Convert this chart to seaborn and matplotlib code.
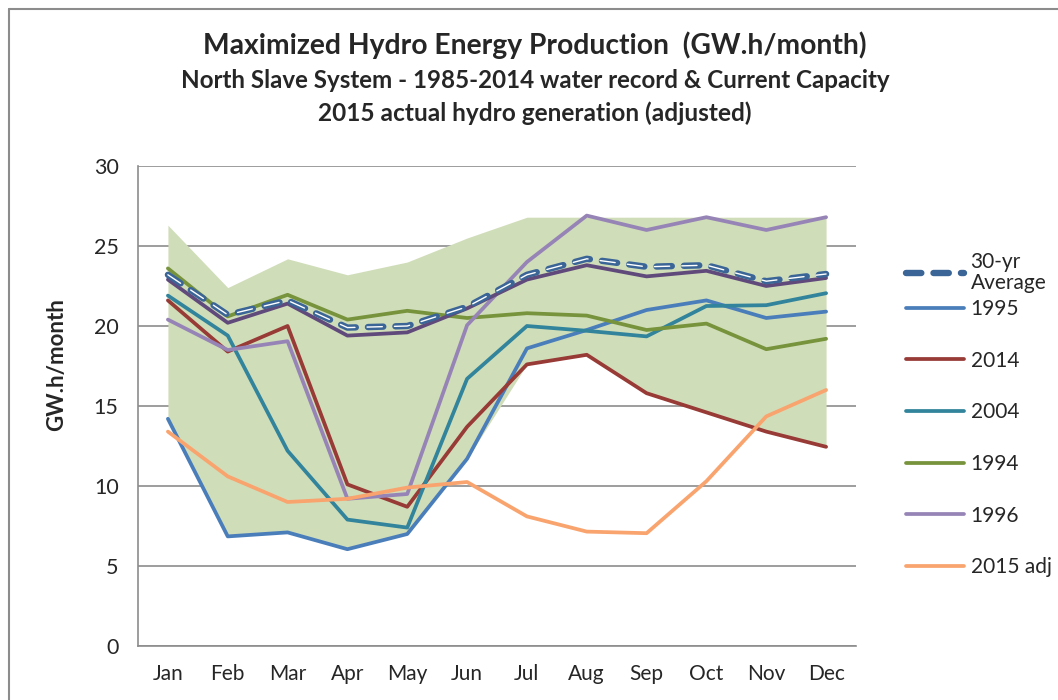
import numpy as np
import pandas as pd
import seaborn as sns
import matplotlib.pyplot as plt
from matplotlib.lines import Line2D

sns.set_style('white')
plt.rcParams['font.family'] = ['Lato', 'DejaVu Sans']

months = ['Jan', 'Feb', 'Mar', 'Apr', 'May', 'Jun', 'Jul', 'Aug', 'Sep', 'Oct', 'Nov', 'Dec']

# envelope of the 1985-2014 water record
band_hi = [26.3, 22.4, 24.2, 23.2, 24.0, 25.5, 26.8, 26.8, 26.8, 26.8, 26.8, 26.8]
band_lo = [14.2, 6.85, 7.1, 6.05, 7.0, 11.7, 17.6, 18.2, 15.8, 14.6, 13.4, 12.45]

avg_30yr = [23.2, 20.7, 21.6, 19.9, 20.0, 21.2, 23.2, 24.2, 23.7, 23.8, 22.8, 23.25]
cap_line = [22.9, 20.2, 21.4, 19.4, 19.6, 21.1, 22.9, 23.8, 23.1, 23.45, 22.5, 23.0]
y1995 = [14.2, 6.85, 7.1, 6.05, 7.0, 11.7, 18.6, 19.75, 21.0, 21.6, 20.5, 20.9]
y2014 = [21.6, 18.4, 20.0, 10.1, 8.7, 13.7, 17.6, 18.2, 15.8, 14.6, 13.4, 12.45]
y2004 = [21.9, 19.4, 12.2, 7.9, 7.4, 16.7, 20.0, 19.7, 19.35, 21.25, 21.3, 22.05]
y1994 = [23.6, 20.6, 21.95, 20.4, 20.95, 20.5, 20.8, 20.65, 19.75, 20.15, 18.55, 19.2]
y1996 = [20.4, 18.5, 19.05, 9.2, 9.5, 20.05, 24.0, 26.9, 26.0, 26.8, 26.0, 26.8]
y2015_adj = [13.4, 10.6, 9.0, 9.2, 9.9, 10.25, 8.1, 7.15, 7.05, 10.3, 14.35, 16.0]

df = pd.DataFrame({'m': np.arange(len(months)), 'avg': avg_30yr, 'cap': cap_line,
                   '1995': y1995, '2014': y2014, '2004': y2004, '1994': y1994,
                   '1996': y1996, '2015 adj': y2015_adj})

COLORS = {'1995': '#4a7ebb', '2014': '#983a36', '2004': '#31849b', '1994': '#77933c',
          '1996': '#9784b6', '2015 adj': '#f9a46e'}
AVG_COLOR = '#3a6596'
CAP_COLOR = '#604a7b'
BAND = '#d0ddb9'

fig = plt.figure(figsize=(10.58, 7), dpi=100)
ax = fig.add_axes([138 / 1058, 54 / 700, (856 - 138) / 1058, (646 - 166) / 700])

ax.fill_between(df['m'], band_lo, band_hi, color=BAND, linewidth=0, zorder=1)

lw = 2.7
for name in ['1995', '2014', '2004', '1994', '1996']:
    sns.lineplot(data=df, x='m', y=name, ax=ax, color=COLORS[name], linewidth=lw, zorder=3)
sns.lineplot(data=df, x='m', y='cap', ax=ax, color=CAP_COLOR, linewidth=lw, zorder=3)
# double dashed average line
sns.lineplot(data=df, x='m', y='avg', ax=ax, color=AVG_COLOR, linewidth=4.6, zorder=4)
ax.lines[-1].set_dashes([2.4, 1.9])
ax.lines[-1].set_dash_capstyle('round')
sns.lineplot(data=df, x='m', y='avg', ax=ax, color='white', linewidth=1.0, zorder=5)
ax.lines[-1].set_dashes([11.0, 8.7])
ax.lines[-1].set_dash_capstyle('round')
sns.lineplot(data=df, x='m', y='2015 adj', ax=ax, color=COLORS['2015 adj'], linewidth=lw, zorder=6)

ax.set_xlim(-0.5, 11.5)
ax.set_ylim(0, 30)
ax.set_yticks(np.arange(0, 31, 5))
ax.set_xticks(np.arange(len(months)))
ax.set_xticklabels(months)
ax.set_xticks(np.arange(-0.5, 12, 1), minor=True)
ax.tick_params(axis='x', which='major', length=0, pad=13, labelsize=15)
ax.tick_params(axis='x', which='minor', length=6, width=1.2, color='#8c8c8c', direction='out')
ax.tick_params(axis='y', length=6, width=1.2, color='#8c8c8c', direction='out', labelsize=15.5, pad=8)
ax.yaxis.grid(True, color='#8c8c8c', linewidth=1.2)
ax.set_axisbelow(True)
for s in ['top', 'right']:
    ax.spines[s].set_visible(False)
for s in ['left', 'bottom']:
    ax.spines[s].set_color('#8c8c8c')
    ax.spines[s].set_linewidth(1.2)
ax.set_xlabel('')
ax.set_ylabel('')

fig.text(57 / 1058, 1 - 365 / 700, 'GW.h/month', rotation=90, ha='center', va='center',
         fontsize=16, fontweight='bold')

fig.text(535 / 1058, 1 - 45 / 700, 'Maximized Hydro Energy Production  (GW.h/month)',
         ha='center', va='center', fontsize=20.3, fontweight='bold')
fig.text(535 / 1058, 1 - 80 / 700, 'North Slave System - 1985-2014 water record & Current Capacity',
         ha='center', va='center', fontsize=17.4, fontweight='bold')
fig.text(535 / 1058, 1 - 113 / 700, '2015 actual hydro generation (adjusted)',
         ha='center', va='center', fontsize=17.6, fontweight='bold')

# legend: average entry on its own so the yearly rows line up with the reference
avg_handle = Line2D([], [], color=AVG_COLOR, linewidth=4.6, dashes=[2.4, 1.9], dash_capstyle='round')
leg1 = fig.legend([avg_handle], ['30-yr\nAverage'], loc='upper left',
                  bbox_to_anchor=(906 / 1058, 1 - 252 / 700), frameon=False, fontsize=15,
                  handlelength=2.8, handletextpad=0.3, borderaxespad=0, borderpad=0)
leg1.get_texts()[0].set_linespacing(1.05)

year_names = ['1995', '2014', '2004', '1994', '1996', '2015 adj']
handles = [Line2D([], [], color=COLORS[n], linewidth=lw, solid_capstyle='round') for n in year_names]
fig.legend(handles, year_names, loc='upper left', bbox_to_anchor=(906 / 1058, 1 - 299 / 700),
           frameon=False, fontsize=15, handlelength=2.8, handletextpad=0.3,
           labelspacing=1.52, borderaxespad=0, borderpad=0)

# chart border (top and left visible in the crop)
fig.add_artist(Line2D([9 / 1058, 9 / 1058], [0, 1 - 9 / 700], color='#8c8c8c', linewidth=1.5,
                      transform=fig.transFigure))
fig.add_artist(Line2D([9 / 1058, 1], [1 - 9 / 700, 1 - 9 / 700], color='#8c8c8c', linewidth=1.5,
                      transform=fig.transFigure))

fig.savefig('out.png', dpi=100)
